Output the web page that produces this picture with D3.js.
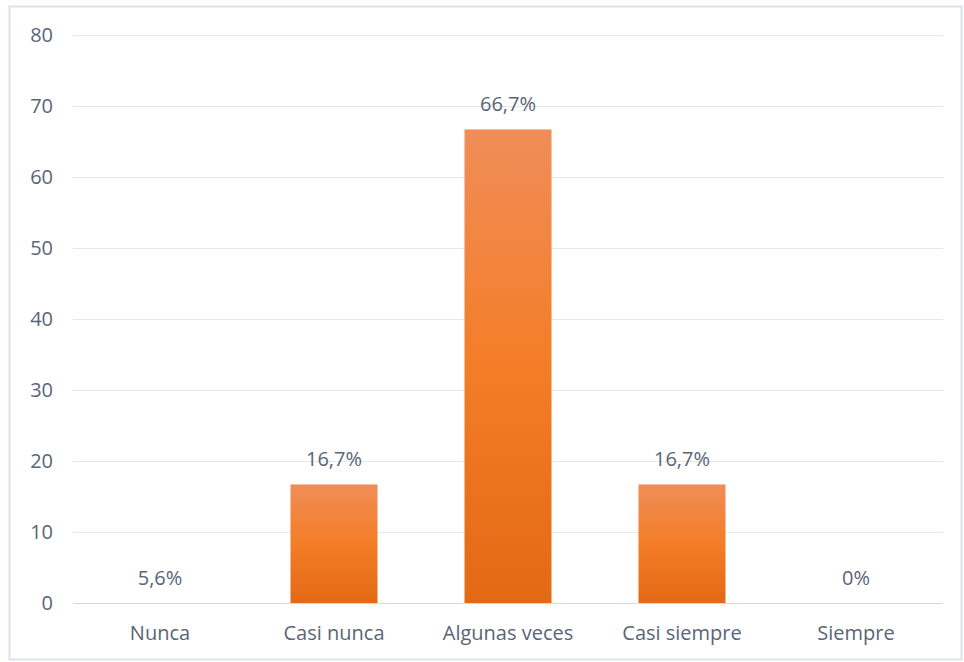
<!DOCTYPE html>
<html>
<head>
<meta charset="utf-8">
<script src="https://cdn.jsdelivr.net/npm/d3@7"></script>
<style>
  html, body { margin: 0; padding: 0; background: #ffffff; }
  svg { display: block; }
</style>
</head>
<body>
<svg id="chart" width="964" height="662"></svg>
<script>
// Response categories and their plotted values (percent)
const categories = ["Nunca", "Casi nunca", "Algunas veces", "Casi siempre", "Siempre"];
const values = [0, 16.7, 66.7, 16.7, 0];
const valueLabels = ["5,6%", "16,7%", "66,7%", "16,7%", "0%"];
const yTicks = [0, 10, 20, 30, 40, 50, 60, 70, 80];

const svg = d3.select("#chart");
const W = 964, H = 662;
const margin = { left: 73, right: 21, top: 35, bottom: 59 };
const textColor = "#5a6577";
const fontFamily = "'Open Sans', 'Noto Sans', sans-serif";
const fontSize = "20px";

// Outer frame
svg.append("rect")
  .attr("x", 9.5).attr("y", 6.5)
  .attr("width", W - 12).attr("height", H - 9)
  .attr("fill", "#ffffff")
  .attr("stroke", "#dde2ea").attr("stroke-width", 2);

const x = d3.scaleBand()
  .domain(categories)
  .range([margin.left, W - margin.right])
  .paddingInner(0.5).paddingOuter(0.25);

const y = d3.scaleLinear()
  .domain([0, 80])
  .range([H - margin.bottom, margin.top]);

// Gridlines
svg.append("g")
  .selectAll("line")
  .data(yTicks)
  .join("line")
  .attr("x1", margin.left).attr("x2", W - margin.right)
  .attr("y1", d => Math.round(y(d)) + 0.5).attr("y2", d => Math.round(y(d)) + 0.5)
  .attr("stroke", d => d === 0 ? "#d6d9de" : "#e4e7eb")
  .attr("stroke-width", 1);

// Y axis labels
const yAxis = d3.axisLeft(y).tickValues(yTicks).tickSize(0).tickPadding(20);
const gy = svg.append("g")
  .attr("transform", `translate(${margin.left},0)`)
  .call(yAxis);
gy.select(".domain").remove();
gy.selectAll("text")
  .attr("fill", textColor)
  .style("font-family", fontFamily)
  .style("font-size", fontSize);

// Bar gradient
const defs = svg.append("defs");
const grad = defs.append("linearGradient")
  .attr("id", "barGrad")
  .attr("x1", 0).attr("y1", 0).attr("x2", 0).attr("y2", 1);
grad.append("stop").attr("offset", "0%").attr("stop-color", "#f08d58");
grad.append("stop").attr("offset", "50%").attr("stop-color", "#f47d27");
grad.append("stop").attr("offset", "100%").attr("stop-color", "#e36915");

const data = categories.map((c, i) => ({ cat: c, value: values[i], label: valueLabels[i] }));

// Bars
svg.append("g")
  .selectAll("rect")
  .data(data)
  .join("rect")
  .attr("x", d => x(d.cat))
  .attr("y", d => y(d.value))
  .attr("width", x.bandwidth())
  .attr("height", d => y(0) - y(d.value))
  .attr("fill", "url(#barGrad)");

// Value labels
svg.append("g")
  .selectAll("text")
  .data(data)
  .join("text")
  .attr("x", d => x(d.cat) + x.bandwidth() / 2)
  .attr("y", d => y(d.value) - 18)
  .attr("text-anchor", "middle")
  .attr("fill", textColor)
  .style("font-family", fontFamily)
  .style("font-size", fontSize)
  .text(d => d.label);

// Category labels
const xAxis = d3.axisBottom(x).tickSize(0).tickPadding(23);
const gx = svg.append("g")
  .attr("transform", `translate(0,${y(0)})`)
  .call(xAxis);
gx.select(".domain").remove();
gx.selectAll("text")
  .attr("fill", textColor)
  .style("font-family", fontFamily)
  .style("font-size", fontSize);
</script>
</body>
</html>
